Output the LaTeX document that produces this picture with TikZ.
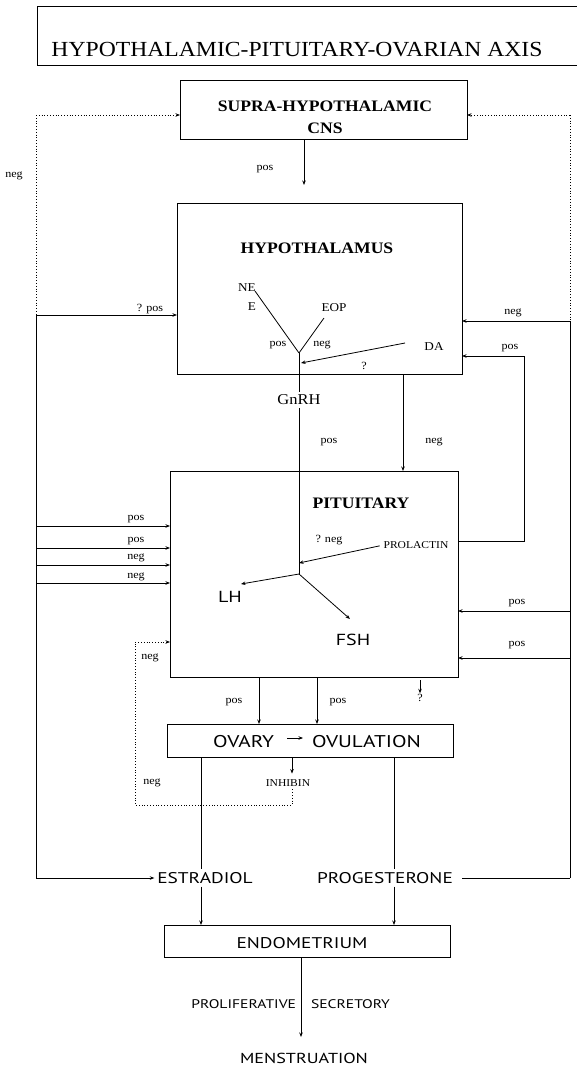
\documentclass[tikz,border=0pt]{standalone}
\usepackage{fontspec}
\setmainfont{Liberation Serif}
\newfontfamily\srf[FakeStretch=1.1]{Liberation Serif}
\newfontfamily\opf[FakeStretch=1.25]{PT Sans}
\usetikzlibrary{arrows.meta}
\begin{document}
\begin{tikzpicture}[x=1pt,y=-1pt,
  every node/.style={inner sep=0pt, outer sep=0pt},
  blk/.style={draw, line width=1pt, rectangle},
  arr/.style={line width=0.8pt, -{Stealth[length=4.5pt,width=3.5pt]}},
  ln/.style={line width=0.8pt},
  dotln/.style={line width=0.8pt, dotted},
  dotarr/.style={line width=0.8pt, dotted, -{Stealth[length=4.5pt,width=3.5pt]}},
  sm/.style={font=\fontsize{11}{12}\srf\selectfont},
  hd/.style={font=\fontsize{16}{17}\srf\bfseries\selectfont},
  op/.style={font=\fontsize{15.5}{17}\opf\selectfont},
  mid/.style={font=\fontsize{12}{13}\srf\selectfont},
]
\useasboundingbox (0,0) rectangle (577,1069);

% title
\draw[line width=1pt] (580,6) -- (37,6) -- (37,65) -- (580,65);
\node[font=\fontsize{21.5}{23}\srf\selectfont] (title) at (297,50) {HYPOTHALAMIC-PITUITARY-OVARIAN AXIS};

% boxes
\node[blk, minimum width=287pt, minimum height=59pt] (cns) at (323.5,109.5) {};
\node[hd] (cns1) at (325,106) {SUPRA-HYPOTHALAMIC};
\node[hd] (cns2) at (325,128) {CNS};

\node[blk, minimum width=285pt, minimum height=171pt] (hyp) at (319.5,288.5) {};
\node[hd] (hyptxt) at (317,248) {HYPOTHALAMUS};

\node[blk, minimum width=288pt, minimum height=206pt] (pit) at (314,574) {};
\node[hd] (pittxt) at (361,503) {PITUITARY};

\node[blk, minimum width=286pt, minimum height=33pt] (ovbox) at (310,740.5) {};
\node[font=\fontsize{17}{18}\opf\selectfont, anchor=east] (ovary) at (274,742) {OVARY};
\node[font=\fontsize{17}{18}\opf\selectfont, anchor=west] (ovul) at (312,742) {OVULATION};
\draw[arr, shorten <=13pt, shorten >=9pt] (ovary.east |- 0,738) -- (ovul.west |- 0,738);

\node[blk, minimum width=286pt, minimum height=32pt] (endo) at (307,941) {};
\node[op] (endotxt) at (302,943) {ENDOMETRIUM};

% supra -> hypothalamus
\coordinate (sx) at (304,150);
\node[sm] (lpos0) at (265,169) {pos};
\draw[arr, shorten >=18pt] (cns.south -| sx) -- (hyp.north -| sx);

% dotted neg to CNS
\coordinate (D1) at (36,115);
\coordinate (D2) at (570,115);
\coordinate (L1) at (36,315);
\coordinate (L2) at (36,878);
\coordinate (R1) at (570,321);
\coordinate (R2) at (570,878);
\node[sm] (negtop) at (14,176) {neg};
\draw[dotarr] (D1) -- (D1 -| cns.west);
\draw[dotln] (D1) -- (L1);
\draw[dotarr] (D2) -- (D2 -| cns.east);
\draw[dotln] (D2) -- (R1);

% hypothalamus inside
\node[mid] (ne) at (247,288) {NE};
\node[mid] (e) at (252,307) {E};
\node[mid] (eop) at (334,308) {EOP};
\node[mid] (da) at (434,347) {DA};
\node[sm] (hpos) at (278,345) {pos};
\node[sm] (hneg) at (322,345) {neg};
\node[sm] (hq) at (364,366) {?};
\coordinate (V) at (299,353);
\coordinate (Vt) at (301,363);
\coordinate (neend) at (255,291);
\coordinate (eopend) at (324,318);
\coordinate (daend) at (405,343);
\draw[ln] (neend) -- (V);
\draw[ln] (eopend) -- (V);
\draw[arr] (daend) -- (Vt);
\node[font=\fontsize{15}{16}\srf\selectfont, inner sep=3pt] (gnrh) at (299,400) {GnRH};
\draw[ln] (V) -- (gnrh);

% hyp -> pit
\coordinate (J) at (299,574);
\draw[ln] (gnrh) -- (J);
\node[sm] (gpos) at (329,442) {pos};
\coordinate (nx) at (403,420);
\node[sm] (gneg) at (434,442) {neg};
\draw[arr] (hyp.south -| nx) -- (pit.north -| nx);

% left feedback
\node[sm] (qpos) at (150,309) {? pos};
\draw[arr] (L1) -- (L1 -| hyp.west);
\draw[ln] (L1) -- (L2);

% pituitary inside
\node[font=\fontsize{10.5}{11}\srf\selectfont] (prl) at (416,545) {PROLACTIN};
\node[sm] (pqneg) at (329,540) {? neg};
\coordinate (Pt) at (299,563);
\draw[arr, shorten <=4pt] (prl.west) -- (Pt);
\node[font=\fontsize{16}{17}\opf\selectfont] (lh) at (230,597) {LH};
\node[font=\fontsize{16}{17}\opf\selectfont] (fsh) at (353,640) {FSH};
\coordinate (lhend) at (241,584);
\coordinate (fshend) at (350,619);
\draw[arr] (J) -- (lhend);
\draw[arr] (J) -- (fshend);

% prolactin loop to hypothalamus
\coordinate (P1) at (524,541);
\coordinate (P2) at (524,356);
\node[sm] (rpos1) at (510,348) {pos};
\draw[arr] (P1 -| pit.east) -- (P1) -- (P2) -- (P2 -| hyp.east);

% right feedback
\node[sm] (rneg1) at (513,313) {neg};
\draw[arr] (R1) -- (R1 -| hyp.east);
\coordinate (R3) at (570,611);
\coordinate (R4) at (570,658);
\node[sm] (rpos2) at (517,603) {pos};
\node[sm] (rpos3) at (517,645) {pos};
\draw[arr] (R3) -- (R3 -| pit.east);
\draw[arr] (R4) -- (R4 -| pit.east);

% left inputs to pituitary
\coordinate (Lp1) at (36,526);
\coordinate (Lp2) at (36,548);
\coordinate (Lp3) at (36,565);
\coordinate (Lp4) at (36,583);
\node[sm] (lp1) at (136,519) {pos};
\node[sm] (lp2) at (136,541) {pos};
\node[sm] (lp3) at (136,558) {neg};
\node[sm] (lp4) at (136,577) {neg};
\draw[arr] (Lp1) -- (Lp1 -| pit.west);
\draw[arr] (Lp2) -- (Lp2 -| pit.west);
\draw[arr] (Lp3) -- (Lp3 -| pit.west);
\draw[arr] (Lp4) -- (Lp4 -| pit.west);

% pituitary -> ovary
\coordinate (o1) at (259,700);
\coordinate (o2) at (317,700);
\node[sm] (opos1) at (234,702) {pos};
\node[sm] (opos2) at (338,702) {pos};
\draw[arr] (pit.south -| o1) -- (ovbox.north -| o1);
\draw[arr] (pit.south -| o2) -- (ovbox.north -| o2);
\node[sm] (pq) at (420,698) {?};
\draw[arr, shorten <=3pt, shorten >=1pt] (pit.south -| pq) -- (pq.north);

% inhibin loop
\node[font=\fontsize{10.5}{11}\srf\selectfont] (inh) at (288,783) {INHIBIN};
\coordinate (ix) at (292,770);
\draw[arr, shorten >=6pt] (ovbox.south -| ix) -- (inh.north -| ix);
\coordinate (Q1) at (135,642);
\coordinate (Q2) at (135,805);
\coordinate (Q3) at (292,805);
\node[sm] (qneg1) at (150,658) {neg};
\node[sm] (qneg2) at (152,783) {neg};
\draw[dotarr, shorten <=3pt] (inh.south -| Q3) -- (Q3) -- (Q2) -- (Q1) -- (Q1 -| pit.west);

% estradiol / progesterone
\node[op, inner sep=3pt] (estr) at (205,878) {ESTRADIOL};
\node[op, inner sep=3pt] (prog) at (385,878) {PROGESTERONE};
\coordinate (ex) at (201,850);
\coordinate (px) at (394,850);
\draw[ln] (ovbox.south -| ex) -- (estr.north -| ex);
\draw[arr] (estr.south -| ex) -- (endo.north -| ex);
\draw[ln] (ovbox.south -| px) -- (prog.north -| px);
\draw[arr] (prog.south -| px) -- (endo.north -| px);
\draw[arr] (L2) -- (estr.west);
\draw[ln] (R1) -- (R2);
\draw[ln, shorten >=6pt] (R2) -- (prog.east |- R2);

% endometrium -> menstruation
\node[font=\fontsize{12.5}{13}\opf\selectfont, anchor=east] (prolif) at (296,1004) {PROLIFERATIVE};
\node[font=\fontsize{12.5}{13}\opf\selectfont, anchor=west] (secr) at (311,1004) {SECRETORY};
\node[font=\fontsize{14.5}{15}\opf\selectfont] (men) at (304,1058) {MENSTRUATION};
\coordinate (mx) at (301,1037);
\draw[arr] (endo.south -| mx) -- (mx);
\end{tikzpicture}
\end{document}
